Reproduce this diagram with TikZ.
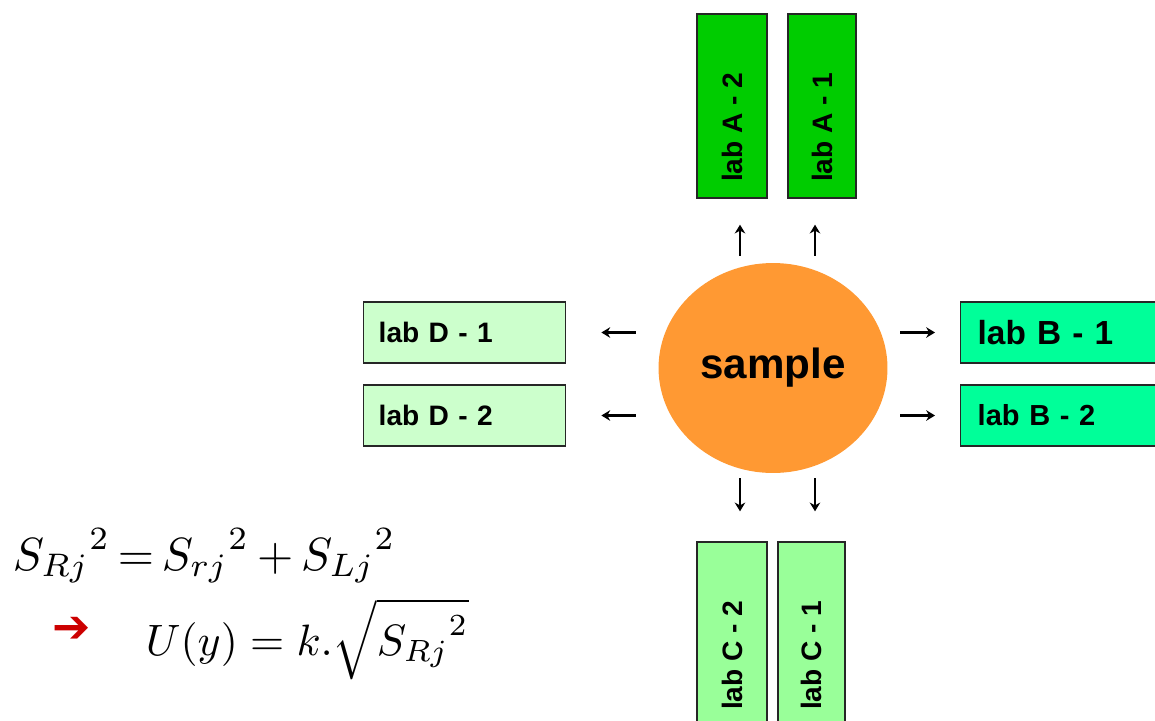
\documentclass[tikz,border=0pt]{standalone}
\usepackage{fontspec}
\setmainfont{Liberation Sans}
\newfontfamily\dingfont{DejaVu Sans}
\usetikzlibrary{arrows.meta,calc,positioning,shapes.geometric}
\definecolor{labA}{HTML}{00CC00}
\definecolor{labB}{HTML}{00FF99}
\definecolor{labC}{HTML}{99FF99}
\definecolor{labD}{HTML}{CCFFCC}
\definecolor{sampleorange}{HTML}{FF9933}
\definecolor{arrred}{HTML}{CC0000}
\tikzset{
  lab/.style={draw=black!85, line width=0.8pt, inner sep=0pt, font=\fontsize{16}{18}\selectfont\bfseries},
  vlabbox/.style={lab, minimum width=1.4cm, minimum height=3.68cm},
  hlabbox/.style={lab, anchor=west, minimum height=1.22cm, inner xsep=0.3cm, text width=3.44cm, align=left},
  arr/.style={-{Stealth[length=5pt,width=6pt]}, line width=1.5pt},
  formula/.style={anchor=base west, inner sep=0pt},
}
\newcommand{\vlab}[1]{\rotatebox{90}{\makebox[3.04cm][l]{#1}}}
\begin{document}
\begin{tikzpicture}[x=0.02cm,y=-0.02cm]
\useasboundingbox (0,0) rectangle (1155,720) ;
\node [ellipse, fill=sampleorange, minimum width=4.58cm, minimum height=4.2cm, inner sep=0pt, font=\fontsize{24}{28}\selectfont\bfseries] (sample) at (773,368) {sample} ;
\node [vlabbox, fill=labA] (aTwo) at (732,106) {\vlab{lab A - 2}} ;
\node [vlabbox, fill=labA, minimum width=1.36cm] (aOne) at (822,106) {\vlab{lab A - 1}} ;
\node [hlabbox, fill=labB, inner xsep=0.34cm, text width=3.8cm, font=\fontsize{19}{22}\selectfont\bfseries] (bOne) at (960,332.5) {lab B - 1} ;
\node [hlabbox, fill=labB, inner xsep=0.34cm, text width=3.8cm, font=\fontsize{16.5}{19}\selectfont\bfseries] (bTwo) at (960,415.5) {lab B - 2} ;
\node [vlabbox, fill=labC] (cTwo) at (732,634) {\vlab{lab C - 2}} ;
\node [vlabbox, fill=labC, minimum width=1.34cm] (cOne) at (811.5,634) {\vlab{lab C - 1}} ;
\node [hlabbox, fill=labD] (dOne) at (363,332.5) {lab D - 1} ;
\node [hlabbox, fill=labD] (dTwo) at (363,415.5) {lab D - 2} ;
\draw [arr] ($(sample.north -| aTwo.south)+(8,-7)$) -- ($(aTwo.south)+(8,26)$) ;
\draw [arr] ($(sample.north -| aOne.south)+(-7,-7)$) -- ($(aOne.south)+(-7,26)$) ;
\draw [arr] ($(sample.south -| cTwo.north)+(8,5)$) -- ($(cTwo.north)+(8,-30)$) ;
\draw [arr] ($(sample.south -| cOne.north)+(3.5,5)$) -- ($(cOne.north)+(3.5,-30)$) ;
\draw [arr] ($(sample.west |- dOne.east)+(-22.5,0)$) -- ($(dOne.east)+(35,0)$) ;
\draw [arr] ($(sample.west |- dTwo.east)+(-22.5,0)$) -- ($(dTwo.east)+(35,0)$) ;
\draw [arr] ($(sample.east |- bOne.west)+(12.5,0)$) -- ($(bOne.west)+(-25,0)$) ;
\draw [arr] ($(sample.east |- bTwo.west)+(12.5,0)$) -- ($(bTwo.west)+(-25,0)$) ;
\node [formula, scale=2.65] (srj) at (12,570) {${S_{Rj}}^{2}\,{=}\,{S_{rj}}^{2}\,{+}\,{S_{Lj}}^{2}$} ;
\node [formula, text=arrred, font=\dingfont\fontsize{26}{28}\selectfont] (then) at (52,642) {➔} ;
\node [formula, scale=2.5] (uy) at (145,655) {$U(y) = k.\sqrt{{S_{Rj}}^{2}}$} ;
\end{tikzpicture}
\end{document}
